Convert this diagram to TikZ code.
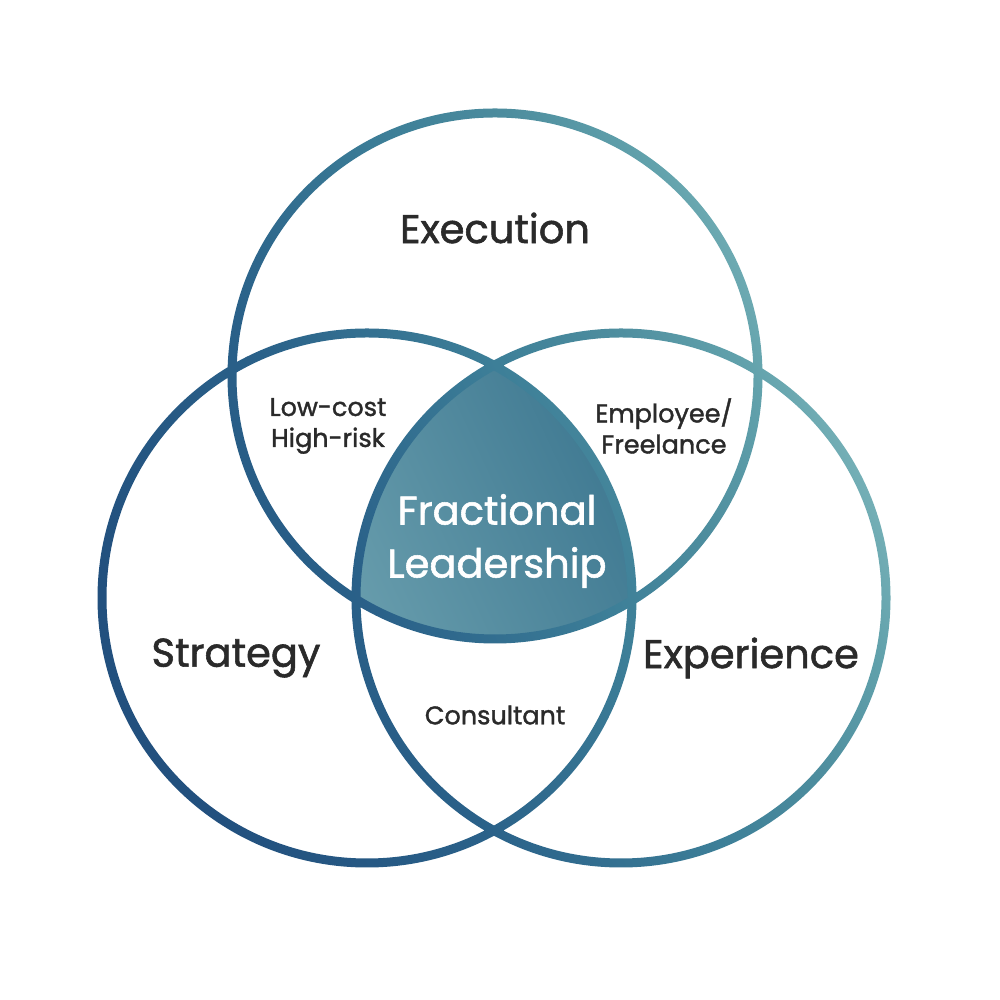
\documentclass[tikz,border=0pt]{standalone}
\usepackage{fontspec}
\usetikzlibrary{calc}
\setmainfont{Poppins}[FakeBold=1.4]
\definecolor{txt}{HTML}{2A2A2A}
\definecolor{r0}{HTML}{22507E}
\definecolor{r1}{HTML}{2A6189}
\definecolor{r2}{HTML}{3D7F98}
\definecolor{r3}{HTML}{4D8D9E}
\definecolor{r4}{HTML}{62A2AC}
\definecolor{r5}{HTML}{85BBBF}
\definecolor{cl}{HTML}{6A9FAE}
\definecolor{cd}{HTML}{23607F}
\pgfdeclarehorizontalshading{ringshade}{100bp}{color(0bp)=(r0); color(25bp)=(r0); color(40bp)=(r1); color(53.5bp)=(r2); color(61bp)=(r3); color(68bp)=(r4); color(75bp)=(r5); color(100bp)=(r5)}
\tikzset{
  big/.style={font=\fontsize{40}{53}\selectfont, text=txt, inner sep=0pt, align=center},
  small/.style={font=\fontsize{25.5}{31}\selectfont, text=txt, inner sep=0pt, align=center},
  core/.style={font=\fontsize{40}{53}\selectfont, text=white, inner sep=0pt, align=center},
}
\begin{document}
\begin{tikzpicture}[x=1pt,y=1pt]
\useasboundingbox[fill=white] (0,0) rectangle (1000,1000);
\coordinate (cT) at (495,624);
\coordinate (cL) at (367,402);
\coordinate (cR) at (621,402);
% central triple intersection
\begin{scope}
  \clip (cT) circle (263);
  \clip (cL) circle (265);
  \shade[left color=cl, right color=cd, shading angle=115] (cR) circle (265);
\end{scope}
% rings with one common gradient
\shade[shading=ringshade, shading angle=25]
  ($(cT)+(267.5,0)$) arc[start angle=0, end angle=360, radius=267.5] -- cycle
  ($(cT)+(258.5,0)$) arc[start angle=360, end angle=0, radius=258.5] -- cycle
  ($(cL)+(269.5,0)$) arc[start angle=0, end angle=360, radius=269.5] -- cycle
  ($(cL)+(260.5,0)$) arc[start angle=360, end angle=0, radius=260.5] -- cycle
  ($(cR)+(269.5,0)$) arc[start angle=0, end angle=360, radius=269.5] -- cycle
  ($(cR)+(260.5,0)$) arc[start angle=360, end angle=0, radius=260.5] -- cycle;
% labels
\node[big] (exe) at (495,772) {Execution};
\node[big] (str) at (236,342) {Strategy};
\node[big] (exp) at (751,342) {Experience};
\node[small] (low) at (328,574) {Low-cost\\High-risk};
\node[small] (emp) at (664,574) {Employee/\\Freelance};
\node[core] (frac) at (497,459) {Fractional\\Leadership};
\node[small] (con) at (495,285) {Consultant};
\end{tikzpicture}
\end{document}
